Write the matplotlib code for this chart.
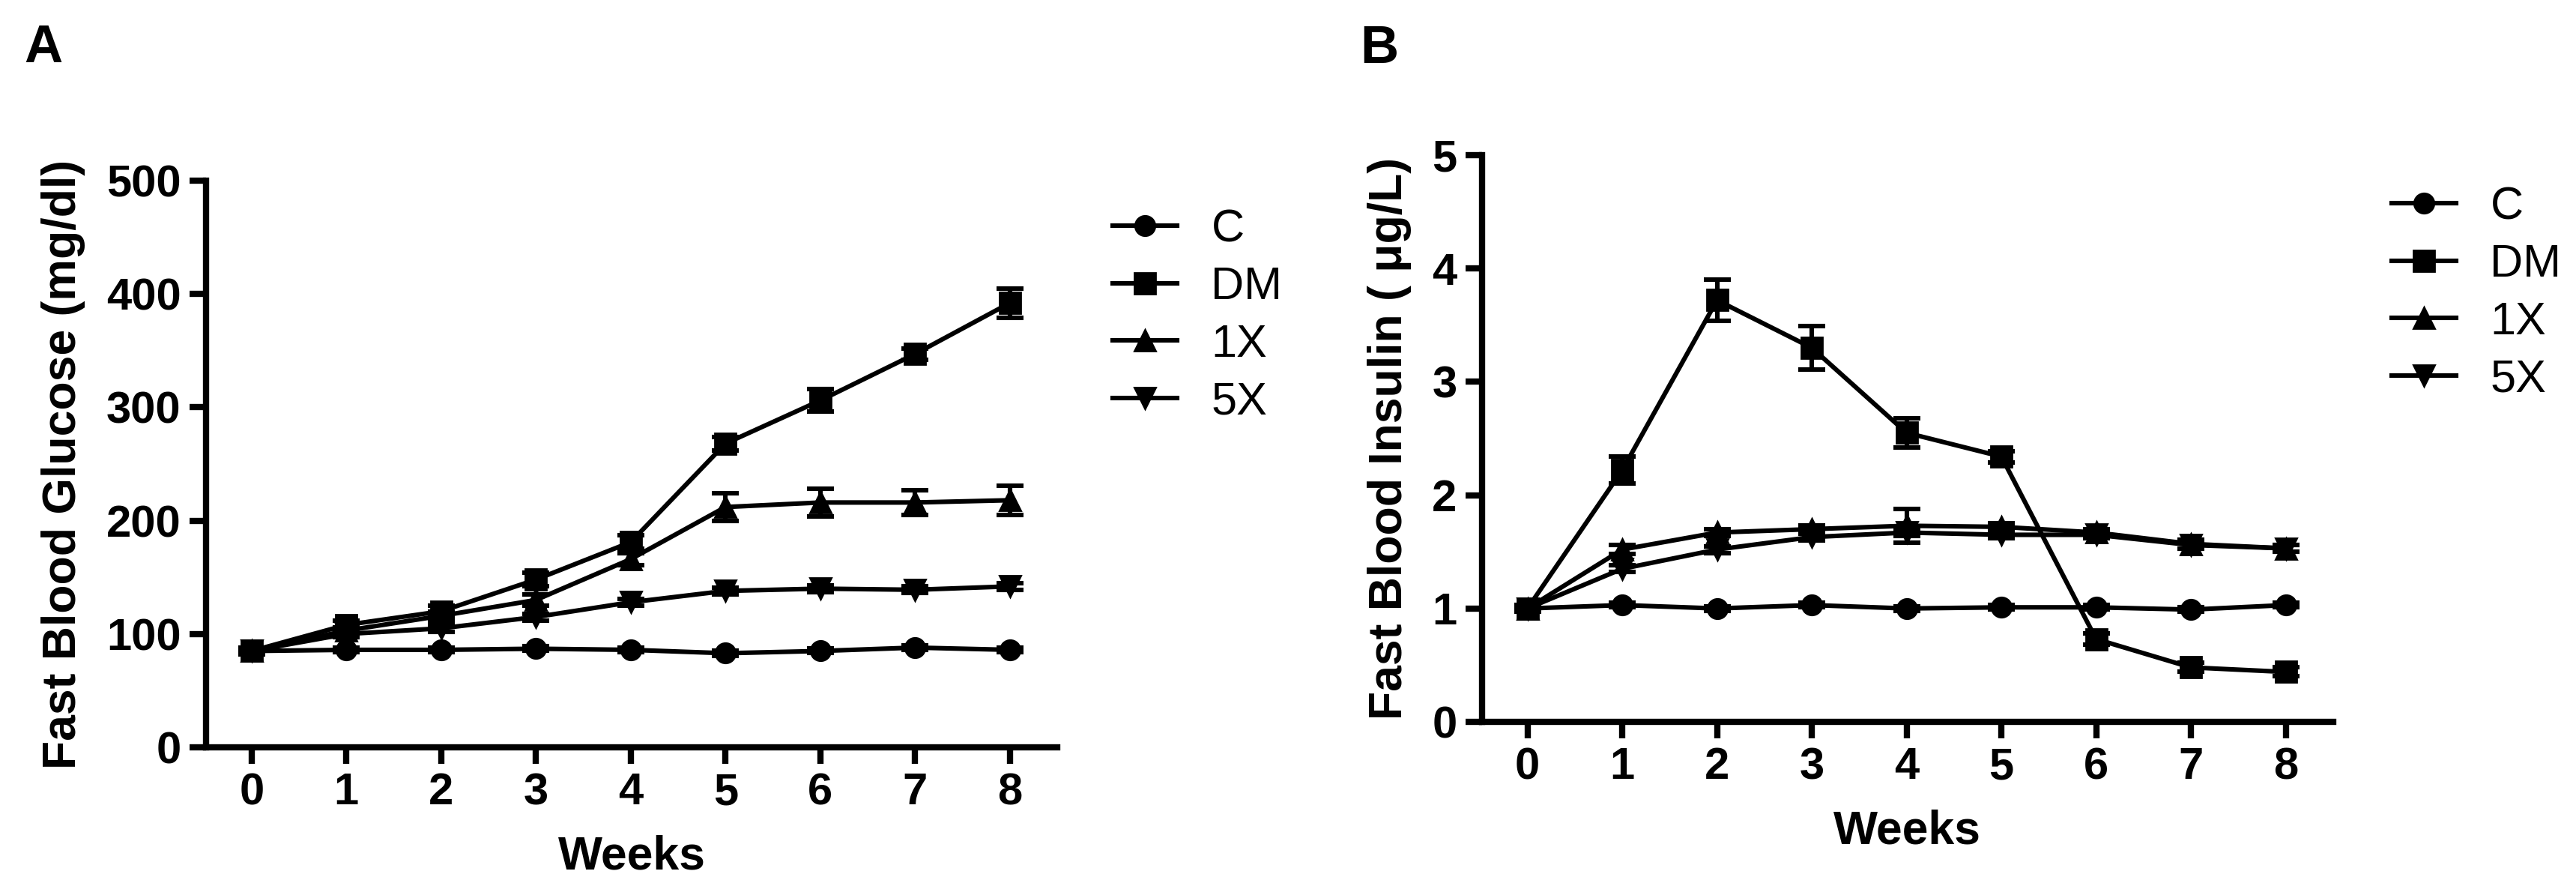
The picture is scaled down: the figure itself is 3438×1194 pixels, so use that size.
import matplotlib
matplotlib.use("Agg")
import matplotlib.pyplot as plt
from matplotlib import font_manager

# data
weeks = [0, 1, 2, 3, 4, 5, 6, 7, 8]
groups = ["C", "DM", "1X", "5X"]
markers = ["o", "s", "^", "v"]
msizes = [9.5, 10, 10, 10]

glu_c = [85, 86, 86, 87, 86, 83, 85, 88, 86]
glu_dm = [85, 108, 120, 148, 181, 268, 306, 347, 392]
glu_1x = [85, 103, 116, 130, 166, 212, 216, 216, 218]
glu_5x = [85, 100, 105, 115, 128, 138, 140, 139, 142]
glu_c_err = [2, 2, 2, 2, 2, 2, 2, 2, 2]
glu_dm_err = [3, 4, 5, 6, 6, 6, 10, 5, 13]
glu_1x_err = [2, 3, 4, 5, 5, 12, 12, 11, 13]
glu_5x_err = [2, 3, 3, 3, 3, 3, 3, 3, 3]

ins_c = [1.0, 1.03, 1.0, 1.03, 1.0, 1.01, 1.01, 0.99, 1.03]
ins_dm = [1.0, 2.22, 3.72, 3.30, 2.55, 2.34, 0.73, 0.48, 0.44]
ins_1x = [1.0, 1.52, 1.67, 1.70, 1.73, 1.72, 1.67, 1.57, 1.53]
ins_5x = [1.0, 1.35, 1.52, 1.63, 1.67, 1.65, 1.65, 1.56, 1.53]
ins_c_err = [0.02, 0.02, 0.02, 0.02, 0.02, 0.02, 0.02, 0.02, 0.02]
ins_dm_err = [0.03, 0.12, 0.18, 0.19, 0.13, 0.05, 0.05, 0.04, 0.04]
ins_1x_err = [0.02, 0.04, 0.03, 0.03, 0.15, 0.03, 0.03, 0.04, 0.03]
ins_5x_err = [0.02, 0.03, 0.03, 0.03, 0.03, 0.03, 0.03, 0.03, 0.03]

names = set(f.name for f in font_manager.fontManager.ttflist)
narrow = "Liberation Sans Narrow" if "Liberation Sans Narrow" in names else "Liberation Sans"
plt.rcParams['font.family'] = ['Liberation Sans', 'DejaVu Sans']

fig = plt.figure(figsize=(17.19, 5.97), dpi=200)
axA = fig.add_axes([0.0800, 0.1650, 0.3304, 0.6332])
axB = fig.add_axes([0.5753, 0.1935, 0.3304, 0.6332])


def draw(ax, series, errs, ylim, yticks, ylabel, leg_xy):
    handles = []
    for vals, err, m, ms in zip(series, errs, markers, msizes):
        cont = ax.errorbar(weeks, vals, yerr=err, color="black", marker=m,
                           markersize=ms, linewidth=2.2, elinewidth=2.2,
                           capsize=6.5, capthick=2.2, clip_on=False)
        handles.append(cont[0])
    ax.set_xlim(-0.48, 8.5)
    ax.set_ylim(*ylim)
    ax.set_xticks(weeks)
    ax.set_yticks(yticks)
    for s in ["top", "right"]:
        ax.spines[s].set_visible(False)
    for s in ["left", "bottom"]:
        ax.spines[s].set_linewidth(3.0)
    ax.tick_params(direction="out", length=8, width=3.0, pad=4)
    for lab in ax.get_xticklabels() + ax.get_yticklabels():
        lab.set_fontfamily([narrow, 'Liberation Sans'])
        lab.set_fontweight("bold")
        lab.set_fontsize(21.5)
    ax.set_xlabel("Weeks", fontsize=22.5, fontweight="bold", labelpad=10)
    ax.set_ylabel(ylabel, fontsize=22.5, fontweight="bold", labelpad=10)
    ax.legend(handles, groups, loc="center left", bbox_to_anchor=leg_xy,
              bbox_transform=fig.transFigure, frameon=False, fontsize=22,
              handlelength=1.4, handletextpad=0.75, labelspacing=0.32,
              borderpad=0, borderaxespad=0)


draw(axA, [glu_c, glu_dm, glu_1x, glu_5x],
     [glu_c_err, glu_dm_err, glu_1x_err, glu_5x_err],
     (0, 500), [0, 100, 200, 300, 400, 500],
     "Fast Blood Glucose (mg/dl)", (1485 / 3438, 1 - 422 / 1194))
draw(axB, [ins_c, ins_dm, ins_1x, ins_5x],
     [ins_c_err, ins_dm_err, ins_1x_err, ins_5x_err],
     (0, 5), [0, 1, 2, 3, 4, 5],
     "Fast Blood Insulin ( \u03bcg/L)", (3192 / 3438, 1 - 392 / 1194))

fig.text(32 / 3438, 1 - 83 / 1194, "A", fontsize=25.5, fontweight="bold", va="baseline")
fig.text(1815 / 3438, 1 - 84 / 1194, "B", fontsize=25.5, fontweight="bold", va="baseline")

fig.savefig("out.png", dpi=200)
